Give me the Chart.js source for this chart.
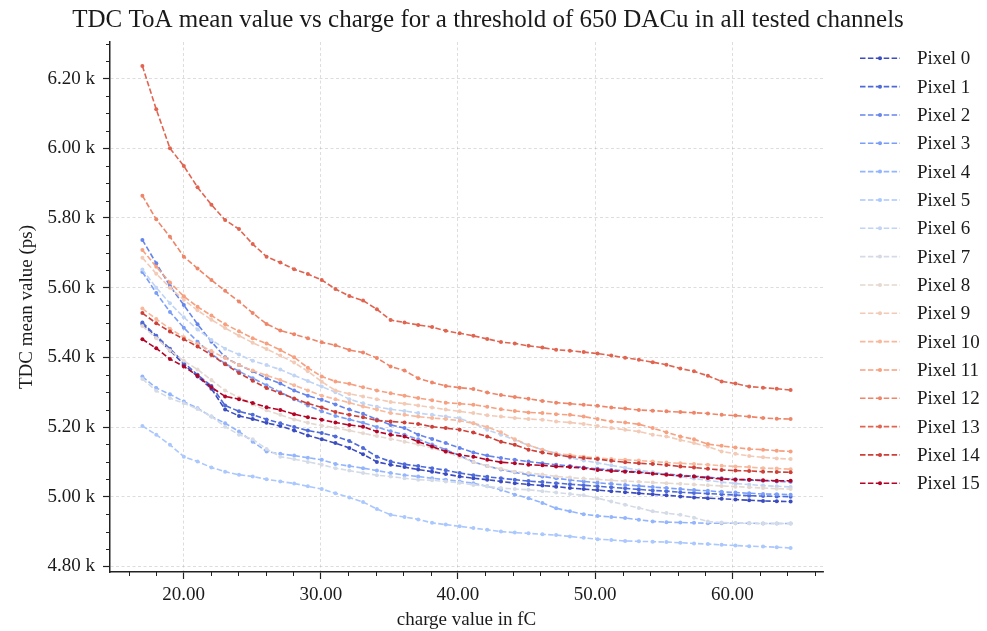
<!DOCTYPE html>
<html>
<head>
<meta charset="utf-8">
<script src="https://cdn.jsdelivr.net/npm/chart.js@4.4.1/dist/chart.umd.min.js"></script>
<style>
  html, body { margin: 0; padding: 0; background: #fff; }
  #wrap { width: 987px; height: 631px; }
</style>
</head>
<body>
<div id="wrap"><canvas id="myChart" width="987" height="631"></canvas></div>
<script>
// charge steps (fC)
const charge = [17.00, 18.01, 19.01, 20.02, 21.02, 22.03, 23.03, 24.04, 25.04, 26.05, 27.05, 28.06, 29.06, 30.07, 31.07, 32.08,
  33.08, 34.09, 35.09, 36.10, 37.10, 38.11, 39.11, 40.12, 41.12, 42.13, 43.13, 44.14, 45.14, 46.15, 47.15, 48.16,
  49.16, 50.17, 51.17, 52.18, 53.18, 54.19, 55.19, 56.20, 57.20, 58.21, 59.21, 60.22, 61.22, 62.23, 63.23, 64.24];

// TDC mean value (ps) per pixel
const pixel0 = [5496, 5458, 5420, 5380, 5345, 5310, 5250, 5232, 5223, 5212, 5203, 5190, 5176, 5165, 5154, 5140,
  5122, 5100, 5092, 5085, 5078, 5072, 5065, 5058, 5053, 5049, 5044, 5039, 5035, 5032, 5029, 5025,
  5022, 5019, 5016, 5013, 5010, 5007, 5004, 5001, 4998, 4996, 4994, 4992, 4990, 4988, 4987, 4986];
const pixel1 = [5500, 5462, 5425, 5385, 5350, 5318, 5262, 5245, 5235, 5222, 5211, 5200, 5190, 5183, 5173, 5160,
  5140, 5115, 5101, 5093, 5088, 5082, 5076, 5068, 5062, 5057, 5053, 5049, 5045, 5042, 5039, 5036,
  5033, 5030, 5027, 5024, 5021, 5018, 5016, 5013, 5011, 5009, 5007, 5005, 5003, 5002, 5001, 5000];
const pixel2 = [5737, 5670, 5605, 5550, 5495, 5445, 5400, 5378, 5360, 5340, 5325, 5305, 5290, 5278, 5265, 5250,
  5238, 5222, 5206, 5197, 5178, 5166, 5154, 5140, 5127, 5118, 5111, 5106, 5101, 5096, 5092, 5088,
  5084, 5080, 5077, 5074, 5071, 5068, 5065, 5062, 5059, 5056, 5053, 5050, 5048, 5046, 5044, 5043];
const pixel3 = [5645, 5585, 5530, 5485, 5445, 5410, 5382, 5360, 5340, 5320, 5300, 5280, 5262, 5245, 5232, 5222,
  5212, 5200, 5188, 5178, 5165, 5150, 5135, 5118, 5100, 5088, 5078, 5070, 5063, 5058, 5053, 5048,
  5044, 5040, 5037, 5034, 5031, 5028, 5025, 5022, 5019, 5017, 5014, 5012, 5010, 5008, 5007, 5006];
const pixel4 = [5345, 5312, 5294, 5273, 5254, 5230, 5211, 5187, 5158, 5130, 5123, 5118, 5112, 5106, 5094, 5088,
  5082, 5075, 5068, 5062, 5058, 5053, 5049, 5044, 5039, 5030, 5020, 5006, 4996, 4982, 4967, 4958,
  4950, 4945, 4942, 4939, 4934, 4929, 4927, 4926, 4925, 4924, 4924, 4924, 4924, 4923, 4923, 4923];
const pixel5 = [5203, 5178, 5149, 5115, 5101, 5084, 5072, 5063, 5058, 5050, 5044, 5038, 5030, 5022, 5010, 4998,
  4985, 4965, 4948, 4942, 4935, 4925, 4920, 4915, 4910, 4905, 4900, 4897, 4895, 4892, 4890, 4886,
  4882, 4878, 4876, 4873, 4872, 4871, 4870, 4868, 4866, 4864, 4862, 4860, 4858, 4857, 4855, 4853];
const pixel6 = [5652, 5600, 5555, 5515, 5480, 5450, 5425, 5408, 5390, 5378, 5365, 5348, 5332, 5316, 5300, 5280,
  5268, 5258, 5251, 5246, 5240, 5235, 5230, 5225, 5211, 5192, 5178, 5163, 5148, 5135, 5125, 5112,
  5104, 5097, 5090, 5083, 5076, 5070, 5064, 5058, 5052, 5047, 5042, 5038, 5035, 5032, 5030, 5028];
const pixel7 = [5338, 5304, 5283, 5268, 5252, 5230, 5201, 5178, 5165, 5137, 5115, 5108, 5100, 5092, 5082, 5075,
  5068, 5062, 5058, 5053, 5049, 5047, 5044, 5040, 5034, 5030, 5025, 5022, 5020, 5016, 5012, 5008,
  5004, 4996, 4986, 4977, 4968, 4958, 4953, 4948, 4940, 4929, 4926, 4924, 4924, 4923, 4923, 4923];
const pixel8 = [5490, 5455, 5420, 5390, 5365, 5335, 5305, 5285, 5265, 5248, 5235, 5222, 5212, 5204, 5198, 5190,
  5182, 5174, 5166, 5158, 5150, 5140, 5128, 5115, 5100, 5088, 5080, 5072, 5068, 5064, 5058, 5055,
  5052, 5050, 5047, 5045, 5043, 5041, 5039, 5037, 5035, 5033, 5031, 5029, 5027, 5025, 5023, 5022];
const pixel9 = [5686, 5640, 5600, 5565, 5535, 5508, 5484, 5462, 5442, 5424, 5405, 5385, 5360, 5330, 5305, 5295,
  5288, 5280, 5272, 5267, 5262, 5256, 5250, 5245, 5240, 5234, 5230, 5226, 5223, 5221, 5216, 5213,
  5209, 5203, 5197, 5192, 5187, 5178, 5173, 5163, 5154, 5144, 5130, 5123, 5117, 5113, 5110, 5108];
const pixel10 = [5540, 5510, 5482, 5458, 5438, 5418, 5398, 5378, 5362, 5348, 5335, 5320, 5305, 5290, 5280, 5270,
  5259, 5250, 5240, 5235, 5230, 5226, 5223, 5218, 5211, 5200, 5185, 5165, 5148, 5135, 5123, 5120,
  5115, 5111, 5108, 5106, 5104, 5101, 5098, 5096, 5094, 5092, 5089, 5087, 5085, 5082, 5081, 5079];
const pixel11 = [5708, 5660, 5615, 5575, 5545, 5520, 5495, 5475, 5455, 5440, 5421, 5400, 5370, 5345, 5331, 5324,
  5314, 5305, 5297, 5290, 5283, 5277, 5270, 5267, 5264, 5258, 5251, 5246, 5242, 5240, 5237, 5235,
  5230, 5223, 5216, 5213, 5208, 5197, 5185, 5173, 5165, 5151, 5146, 5141, 5137, 5135, 5132, 5130];
const pixel12 = [5864, 5796, 5746, 5689, 5655, 5622, 5591, 5560, 5527, 5496, 5477, 5466, 5455, 5443, 5435, 5421,
  5414, 5398, 5374, 5362, 5340, 5328, 5318, 5313, 5309, 5299, 5292, 5286, 5281, 5275, 5270, 5267,
  5264, 5261, 5256, 5253, 5249, 5247, 5245, 5243, 5241, 5239, 5235, 5233, 5230, 5226, 5224, 5223];
const pixel13 = [6236, 6112, 6000, 5949, 5888, 5838, 5794, 5768, 5725, 5689, 5672, 5653, 5639, 5622, 5596, 5576,
  5563, 5538, 5507, 5500, 5493, 5487, 5476, 5469, 5462, 5453, 5444, 5440, 5433, 5428, 5422, 5419,
  5415, 5411, 5405, 5399, 5393, 5386, 5379, 5368, 5360, 5347, 5331, 5325, 5316, 5313, 5310, 5306];
const pixel14 = [5527, 5498, 5474, 5452, 5431, 5407, 5380, 5355, 5333, 5312, 5297, 5282, 5268, 5256, 5243, 5235,
  5228, 5219, 5216, 5213, 5209, 5201, 5197, 5192, 5184, 5173, 5158, 5149, 5135, 5127, 5120, 5115,
  5111, 5108, 5103, 5099, 5096, 5094, 5091, 5087, 5084, 5080, 5077, 5075, 5074, 5072, 5071, 5070];
const pixel15 = [5452, 5426, 5395, 5374, 5347, 5314, 5288, 5280, 5269, 5257, 5249, 5237, 5228, 5221, 5213, 5206,
  5201, 5187, 5178, 5173, 5158, 5144, 5130, 5120, 5115, 5106, 5099, 5096, 5092, 5090, 5087, 5085,
  5082, 5077, 5074, 5072, 5070, 5066, 5063, 5060, 5058, 5054, 5051, 5049, 5049, 5047, 5046, 5046];

const pixels = [pixel0, pixel1, pixel2, pixel3, pixel4, pixel5, pixel6, pixel7,
  pixel8, pixel9, pixel10, pixel11, pixel12, pixel13, pixel14, pixel15];
const labels = pixels.map((p, i) => 'Pixel ' + i);

// coolwarm, 16 steps
const colors = ['#3b4cc0', '#4e6ad8', '#6585ec', '#7b9ef9', '#93b5fe', '#aac7fe', '#c0d4f5', '#d4dbe7',
  '#e5d8d0', '#f2cab6', '#f7b89b', '#f6a080', '#ee8568', '#e06450', '#cc4039', '#b40426'];

const serif = "'Liberation Serif', 'Times New Roman', serif";
const dash = [5.5, 2.4];

const datasets = pixels.map((vals, i) => ({
  label: labels[i],
  data: vals.map((v, j) => ({x: charge[j], y: v})),
  borderColor: colors[i],
  backgroundColor: colors[i],
  borderWidth: 1.6,
  borderDash: dash,
  pointRadius: 2,
  pointBorderWidth: 0,
  pointHoverRadius: 2,
  tension: 0,
  order: 15 - i
}));

// title, legend and minor ticks
const extras = {
  id: 'extras',
  afterDraw(chart) {
    const ctx = chart.ctx;
    const xs = chart.scales.x, ys = chart.scales.y;
    ctx.save();
    ctx.strokeStyle = '#222';
    ctx.lineWidth = 1;
    ctx.setLineDash([]);
    for (let v = 16; v <= 66; v += 2) {
      if (v % 10 === 0) continue;
      const px = Math.round(xs.getPixelForValue(v)) + 0.5;
      ctx.beginPath(); ctx.moveTo(px, xs.top); ctx.lineTo(px, xs.top + 4); ctx.stroke();
    }
    for (let v = 4800; v <= 6300; v += 50) {
      if (v % 200 === 0) continue;
      const py = Math.round(ys.getPixelForValue(v)) + 0.5;
      ctx.beginPath(); ctx.moveTo(ys.right - 4, py); ctx.lineTo(ys.right, py); ctx.stroke();
    }

    ctx.fillStyle = '#1a1a1a';
    ctx.font = '25px ' + serif;
    ctx.textAlign = 'center';
    ctx.textBaseline = 'middle';
    ctx.fillText('TDC ToA mean value vs charge for a threshold of 650 DACu in all tested channels', 488, 20);

    ctx.font = '19px ' + serif;
    ctx.textAlign = 'left';
    chart.data.datasets.forEach((ds, i) => {
      const y = 58.3 + i * 28.33;
      ctx.strokeStyle = ds.borderColor;
      ctx.lineWidth = 1.6;
      ctx.setLineDash(dash);
      ctx.beginPath(); ctx.moveTo(860, y); ctx.lineTo(900, y); ctx.stroke();
      ctx.setLineDash([]);
      ctx.fillStyle = ds.borderColor;
      ctx.beginPath(); ctx.arc(880, y, 2, 0, Math.PI * 2); ctx.fill();
      ctx.fillStyle = '#1a1a1a';
      ctx.fillText(ds.label, 917, y + 1);
    });
    ctx.restore();
  }
};

const gridCfg = {
  color: 'rgba(170,170,170,0.5)',
  lineWidth: 0.8,
  tickColor: '#222',
  tickLength: 7,
  tickWidth: 1.2
};

new Chart(document.getElementById('myChart'), {
  type: 'line',
  data: { datasets: datasets },
  options: {
    responsive: false,
    animation: false,
    events: [],
    layout: { padding: { top: 42, right: 164, left: 0, bottom: 0 } },
    plugins: { legend: { display: false }, title: { display: false }, tooltip: { enabled: false } },
    scales: {
      x: {
        type: 'linear',
        min: 14.64,
        max: 66.6,
        afterFit(scale) { scale.height = 59; },
        grid: gridCfg,
        border: { display: true, color: '#222', width: 1.5, dash: [3, 2.5] },
        ticks: {
          stepSize: 10,
          includeBounds: false,
          padding: 5,
          color: '#1a1a1a',
          font: { family: serif, size: 19 },
          maxRotation: 0,
          callback: v => v.toFixed(2)
        },
        title: { display: true, text: 'charge value in fC', color: '#1a1a1a',
          font: { family: serif, size: 19 }, padding: { top: 0, bottom: 0 } }
      },
      y: {
        type: 'linear',
        min: 4784,
        max: 6305,
        afterFit(scale) { scale.width = 110; },
        grid: gridCfg,
        border: { display: true, color: '#222', width: 1.5, dash: [3, 2.5] },
        ticks: {
          stepSize: 200,
          includeBounds: false,
          padding: 8,
          color: '#1a1a1a',
          font: { family: serif, size: 19 },
          callback: v => (v / 1000).toFixed(2) + ' k'
        },
        title: { display: true, text: 'TDC mean value (ps)', color: '#1a1a1a',
          font: { family: serif, size: 19 }, padding: { top: 16, bottom: 0 } }
      }
    }
  },
  plugins: [extras]
});
</script>
</body>
</html>
